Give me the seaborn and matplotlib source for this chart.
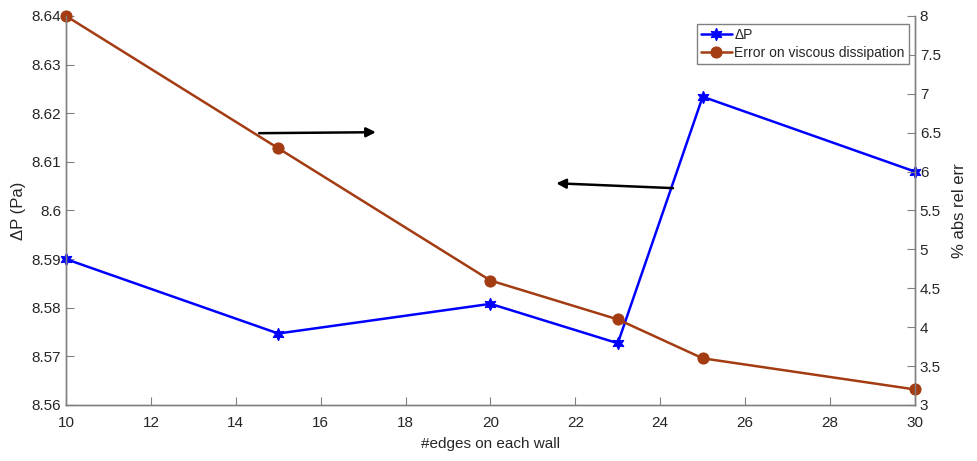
import numpy as np
import pandas as pd
import matplotlib
matplotlib.use('Agg')
import matplotlib.pyplot as plt
import seaborn as sns

edges = [10, 15, 20, 23, 25, 30]
delta_p = [8.5900, 8.5747, 8.5808, 8.5727, 8.6234, 8.6080]
visc_err = [8.0, 6.3, 4.6, 4.1, 3.6, 3.2]

left_ticks = [8.56, 8.57, 8.58, 8.59, 8.60, 8.61, 8.62, 8.63, 8.64]
right_ticks = [3, 3.5, 4, 4.5, 5, 5.5, 6, 6.5, 7, 7.5, 8]
x_ticks = [10, 12, 14, 16, 18, 20, 22, 24, 26, 28, 30]

df = pd.DataFrame({'edges': edges, 'dp': delta_p, 'err': visc_err})

sns.set_style('white')
plt.rcParams['font.family'] = ['Liberation Sans', 'DejaVu Sans']
plt.rcParams['font.size'] = 11

axis_gray = '#262626'
blue = '#0000FF'
brown = '#A33C12'

fig = plt.figure(figsize=(9.78, 4.61), dpi=100)
ax1 = fig.add_axes([0.0675, 0.1215, 0.868, 0.8438])
ax2 = ax1.twinx()

sns.lineplot(data=df, x='edges', y='dp', ax=ax1, color=blue, lw=1.8,
             marker=(6, 1, 0), markersize=9, markeredgecolor=blue,
             label='ΔP', legend=False)
sns.lineplot(data=df, x='edges', y='err', ax=ax2, color=brown, lw=1.8,
             marker='o', markersize=8, markeredgecolor=brown,
             label='Error on viscous dissipation', legend=False)
for ax in (ax1, ax2):
    for ln in ax.get_lines():
        ln.set_clip_on(False)

ax1.set_xlim(10, 30)
ax1.set_ylim(8.56, 8.64)
ax2.set_ylim(3, 8)
ax1.set_xticks(x_ticks)
ax1.set_yticks(left_ticks)
ax1.set_yticklabels(['%g' % round(t, 2) for t in left_ticks])
ax2.set_yticks(right_ticks)
ax2.set_yticklabels(['%g' % t for t in right_ticks])

ax1.set_xlabel('#edges on each wall', fontsize=11, color=axis_gray, labelpad=5)
ax1.set_ylabel('ΔP (Pa)', fontsize=12, color=axis_gray)
ax2.set_ylabel('% abs rel err', fontsize=12, color=axis_gray, rotation=90, labelpad=8)

for ax in (ax1, ax2):
    ax.spines['top'].set_visible(False)
    for s in ('left', 'right', 'bottom'):
        ax.spines[s].set_color('#808080')
        ax.spines[s].set_linewidth(1.0)
    ax.tick_params(direction='in', length=6, width=0.8, color='#808080',
                   labelcolor=axis_gray, labelsize=11)
ax1.tick_params(axis='y', left=True, right=False)
ax2.tick_params(axis='y', right=True, left=False)
ax1.tick_params(axis='x', bottom=True, top=False, pad=8)

# arrows pointing to the axis of each curve
ax1.annotate('', xy=(17.3, 8.6161), xytext=(14.55, 8.6159),
             arrowprops=dict(arrowstyle='-|>', color='black', lw=1.8,
                             mutation_scale=14, shrinkA=0, shrinkB=0))
ax1.annotate('', xy=(21.55, 8.6056), xytext=(24.3, 8.6046),
             arrowprops=dict(arrowstyle='-|>', color='black', lw=1.8,
                             mutation_scale=14, shrinkA=0, shrinkB=0))

h1, l1 = ax1.get_legend_handles_labels()
h2, l2 = ax2.get_legend_handles_labels()
leg = ax2.legend(h1 + h2, l1 + l2, loc='upper right', bbox_to_anchor=(0.993, 0.98),
                 fancybox=False, framealpha=1, edgecolor='#808080', fontsize=10,
                 handlelength=2.2, borderpad=0.3, labelspacing=0.3, handletextpad=0.2,
                 borderaxespad=0)
leg.get_frame().set_linewidth(1.0)

fig.savefig('out.png', dpi=100)
